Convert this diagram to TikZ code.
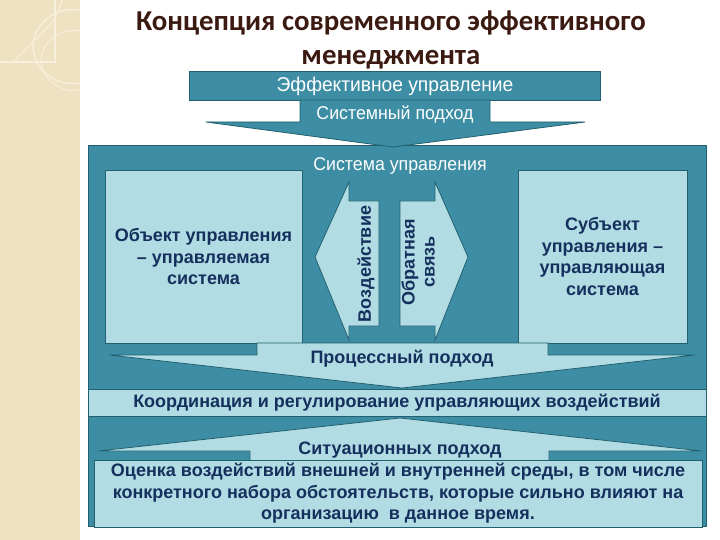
\documentclass[tikz,border=0pt]{standalone}
\usepackage{fontspec}
\setmainfont{Liberation Sans}
\newfontfamily\titlefont{Carlito}
\newfontfamily\narrowfont[FakeStretch=0.96]{Liberation Sans}
\definecolor{paper}{HTML}{EFE2C2}
\definecolor{paperline}{HTML}{F7EFDC}
\definecolor{panel}{HTML}{3D8EA4}
\definecolor{edge}{HTML}{22606F}
\definecolor{pale}{HTML}{B2DCE4}
\definecolor{ink}{HTML}{15305C}
\definecolor{brown}{HTML}{3B1A12}
\tikzset{
  darkbox/.style={fill=panel,draw=edge,line width=0.8pt},
  palebox/.style={fill=pale,draw=edge,line width=0.8pt},
  whitetext/.style={text=white,font=\narrowfont\fontsize{18.5}{21}\selectfont},
  inktext/.style={text=ink,font=\bfseries\fontsize{18}{21.5}\selectfont,align=center}
}
\begin{document}
\begin{tikzpicture}[x=1pt,y=-1pt]
\useasboundingbox (0,0) rectangle (720,540);
\fill[white] (0,0) rectangle (720,540);
\fill[paper] (0,0) rectangle (80,540);
\draw[paperline,line width=1.2pt] (0,62) -- (55,62) -- (55,0);
\draw[paperline,line width=1.2pt] (14,62) .. controls (30,40) and (55,30) .. (62,0);
\draw[paperline,line width=1.5pt] (80,83) arc (80:280:40 and 37);
\draw[paperline,line width=1pt] (80,90) arc (80:280:33 and 30);

\node (title) at (391,39.5) [text=brown,font=\titlefont\bfseries\fontsize{28.8}{34}\selectfont,align=center]
  {Концепция современного эффективного\\менеджмента};

\draw[darkbox] (88,145) rectangle (706,526);
\node (eff) at (395,86) [darkbox,minimum width=411,minimum height=29,whitetext,font=\narrowfont\fontsize{20}{22}\selectfont] {Эффективное управление};
\draw[darkbox] (300,100) -- (490,100) -- (490,122) -- (585,122) -- (393,147) -- (206,122) -- (300,122) -- cycle;
\node (sys) at (395,114) [whitetext] {Системный подход};
\node (su) at (400,166) [whitetext] {Система управления};

\node (obj) at (203.5,256.5) [palebox,minimum width=197,minimum height=173,inktext] {Объект управления\\– управляемая\\система};
\node (subj) at (602.5,256.5) [palebox,minimum width=169,minimum height=173,inktext] {Субъект\\управления –\\управляющая\\система};

\draw[palebox] (349,182) -- (349,201) -- (379,201) -- (379,326) -- (349,326) -- (349,340) -- (315,257) -- cycle;
\draw[palebox] (435,182) -- (435,201) -- (400,201) -- (400,326) -- (435,326) -- (435,340) -- (468,257) -- cycle;
\node (act) at (366,264) [rotate=90,inktext] {Воздействие};
\node (back) at (418,262) [rotate=90,inktext,font=\bfseries\fontsize{18}{20}\selectfont] {Обратная\\связь};

\draw[palebox] (257,343) -- (548,343) -- (548,355) -- (695,355) -- (402,388) -- (109,355) -- (257,355) -- cycle;
\node (proc) at (402,359) [inktext] {Процессный подход};

\node (coord) at (397,403) [palebox,minimum width=618,minimum height=27,inktext] {Координация и регулирование управляющих воздействий};

\draw[palebox] (400,418) -- (702,451) -- (549,451) -- (549,463) -- (250,463) -- (250,451) -- (98,451) -- cycle;
\node (sit) at (400,450) [inktext] {Ситуационных подход};
\node (env) at (398,493.5) [palebox,minimum width=608,minimum height=61,inktext]
  {Оценка воздействий внешней и внутренней среды, в том числе\\конкретного набора обстоятельств, которые сильно влияют на\\организацию\ \ в данное время.};
\end{tikzpicture}
\end{document}
